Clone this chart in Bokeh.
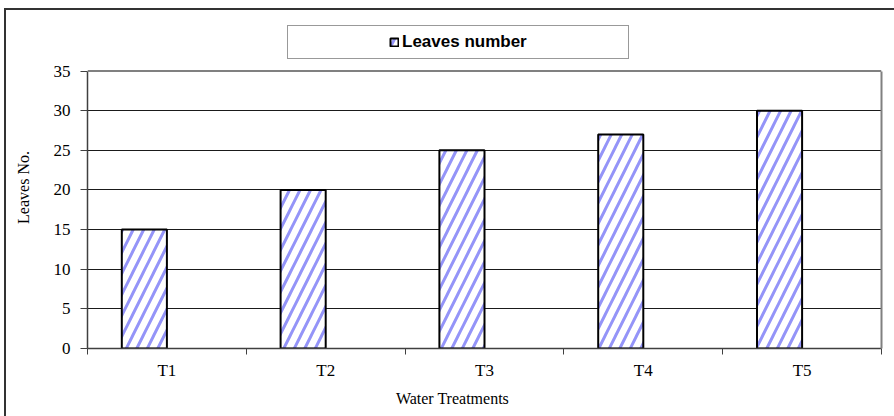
from bokeh.plotting import figure
from bokeh.models import (ColumnDataSource, Range1d, FixedTicker, Legend,
                          LegendItem, LinearAxis, Span, GlobalInlineStyleSheet)
from bokeh.embed import file_html
from bokeh.resources import INLINE

# ---- data ----
treatments = ["T1", "T2", "T3", "T4", "T5"]
leaves = [15, 20, 25, 27, 30]
y_ticks = [0, 5, 10, 15, 20, 25, 30, 35]
series_name = "Leaves number"
x_title = "Water Treatments"
y_title = "Leaves No."

SERIF = "Liberation Serif"
SANS = "Liberation Sans"
BAR_W = 0.284

# ---- layout (pixels) ----
W, H = 894, 416
LEFT, RIGHT, TOP, BOTTOM = 87, 13, 10, 68       # frame borders
AXIS_TOP_PX = 70.5                                # where the value 35 sits
frame_h = H - TOP - BOTTOM
y_max = y_ticks[-1] * frame_h / (H - BOTTOM - AXIS_TOP_PX)

slot = [i + 0.5 for i in range(len(treatments))]
src = ColumnDataSource(dict(x=[s - BAR_W / 2 for s in slot], top=leaves, cat=treatments))

p = figure(width=W, height=H, output_backend="svg", toolbar_location=None,
           x_range=Range1d(0, len(treatments)), y_range=Range1d(y_ticks[0], y_max),
           min_border_left=LEFT, min_border_right=RIGHT, min_border_top=TOP,
           min_border_bottom=BOTTOM)
p.background_fill_color = None
p.border_fill_color = None
p.outline_line_color = None
# outer chart border (left and top edges visible in the reference)
p.styles = {"background": "linear-gradient(#333333, #333333) 4px 8px / 2px 100% no-repeat, "
                          "linear-gradient(#333333, #333333) 4px 8px / 100% 2px no-repeat, white"}
p.stylesheets = [GlobalInlineStyleSheet(css="html, body { background: white; }")]

r = p.vbar(x="x", top="top", width=BAR_W, bottom=0, source=src,
           fill_color="white", line_color="black", line_width=2,
           hatch_pattern="/", hatch_color="#9494f8", hatch_weight=3, hatch_scale=21)
spacer = p.vbar(x=[], top=[], width=BAR_W, fill_alpha=0, line_alpha=0)

# x axis: labels at category centres, tick marks at category boundaries
xa = p.xaxis[0]
xa.bounds = (0, len(treatments))
xa.ticker = FixedTicker(ticks=slot, minor_ticks=list(range(len(treatments) + 1)))
xa.major_label_overrides = {s: t for s, t in zip(slot, treatments)}
xa.major_tick_line_color = None
xa.minor_tick_line_color = "#404040"
xa.minor_tick_out = 6
xa.minor_tick_in = 0
xa.axis_line_color = "#404040"
xa.axis_line_width = 1.5
xa.major_label_text_font = SERIF
xa.major_label_text_font_size = "17px"
xa.major_label_text_color = "black"
xa.major_label_standoff = 6
xa.axis_label = x_title + "\u00a0" * 16
xa.axis_label_text_font = SERIF
xa.axis_label_text_font_size = "16px"
xa.axis_label_text_font_style = "normal"
xa.axis_label_text_color = "black"
xa.axis_label_standoff = 7

ya = p.yaxis[0]
ya.bounds = (y_ticks[0], y_ticks[-1])
ya.ticker = FixedTicker(ticks=y_ticks)
ya.major_tick_out = 7
ya.major_tick_in = 0
ya.major_tick_line_color = "#404040"
ya.minor_tick_line_color = None
ya.axis_line_color = "#404040"
ya.axis_line_width = 1.5
ya.major_label_text_font = SERIF
ya.major_label_text_font_size = "17px"
ya.major_label_text_color = "black"
ya.major_label_standoff = 10
ya.axis_label = y_title + "\u00a0" * 4
ya.axis_label_text_font = SERIF
ya.axis_label_text_font_size = "16px"
ya.axis_label_text_font_style = "normal"
ya.axis_label_text_color = "black"
ya.axis_label_standoff = 19

# right edge of the plot area
edge = LinearAxis(bounds=(y_ticks[0], y_ticks[-1]), ticker=FixedTicker(ticks=[]),
                  axis_line_color="#808080", axis_line_width=2,
                  major_tick_line_color=None, minor_tick_line_color=None,
                  major_label_text_font_size="0px")
p.add_layout(edge, "right")
# top edge of the plot area
p.add_layout(Span(location=y_ticks[-1], dimension="width",
                  line_color="#808080", line_width=2))

p.xgrid.visible = False
p.ygrid.ticker = FixedTicker(ticks=y_ticks[1:-1])
p.ygrid.grid_line_color = "#1a1a1a"
p.ygrid.grid_line_width = 1

# legend box above the plot area; blank side items centre the entry in its wide box
legend = Legend(items=[LegendItem(label="\u00a0", renderers=[spacer]),
                       LegendItem(label=series_name, renderers=[r]),
                       LegendItem(label="\u00a0", renderers=[spacer])],
                orientation="horizontal", location=(200, 289), margin=0,
                padding=6, spacing=0, label_width=82, glyph_width=10, glyph_height=10,
                label_standoff=3, label_height=19,
                border_line_color="#333333", border_line_width=1.5,
                background_fill_color="white", background_fill_alpha=1,
                label_text_font=SANS, label_text_font_style="bold",
                label_text_font_size="17px", label_text_color="black")
p.add_layout(legend)

open("out.html", "w").write(file_html(p, INLINE))
